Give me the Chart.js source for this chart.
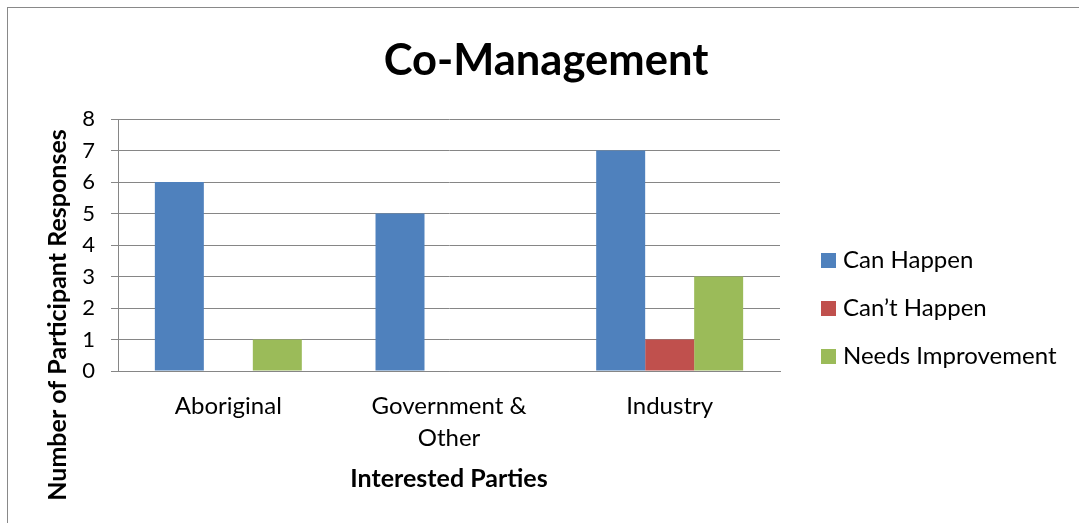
<!DOCTYPE html>
<html>
<head>
<meta charset="utf-8">
<script src="https://cdn.jsdelivr.net/npm/chart.js@4.4.0/dist/chart.umd.min.js"></script>
<style>
  html, body { margin: 0; padding: 0; background: #fff; }
  #wrap { position: relative; width: 1079px; height: 523px; overflow: hidden; }
  #frame { position: absolute; left: 7px; top: 7px; width: 1200px; height: 600px;
           border-left: 1px solid #898989; border-top: 1px solid #898989; pointer-events: none; }
</style>
</head>
<body>
<div id="wrap">
  <canvas id="coManagementChart" width="1079" height="523"></canvas>
  <div id="frame"></div>
</div>
<script>
// --- Data ---
const parties = ['Aboriginal', ['Government &', 'Other'], 'Industry'];
const canHappen = [6, 5, 7];
const cantHappen = [0, 0, 1];
const needsImprovement = [1, 0, 3];
const seriesNames = ['Can Happen', 'Can\u2019t Happen', 'Needs Improvement'];
const seriesColors = ['#4F81BD', '#C0504D', '#9BBB59'];
const yTicks = [0, 1, 2, 3, 4, 5, 6, 7, 8];

const chartTitle = 'Co-Management';
const xAxisTitle = 'Interested Parties';
const yAxisTitle = 'Number of Participant Responses';

const FONT = 'Lato';
const GRID = '#868686';

// title, y axis title and legend drawn by hand (Excel-style placement)
const sideTexts = {
    id: 'sideTexts',
    afterDraw(chart) {
        const ctx = chart.ctx;
        ctx.save();
        ctx.fillStyle = '#000';
        ctx.textAlign = 'center';
        ctx.textBaseline = 'alphabetic';
        ctx.font = `bold 43.5px ${FONT}`;
        ctx.fillText(chartTitle, 546, 75);

        ctx.translate(66, 315);
        ctx.rotate(-Math.PI / 2);
        ctx.font = `bold 25px ${FONT}`;
        ctx.fillText(yAxisTitle, 0, 0);
        ctx.restore();

        ctx.save();
        ctx.font = `24px ${FONT}`;
        ctx.textBaseline = 'alphabetic';
        ctx.textAlign = 'left';
        chart.data.datasets.forEach((ds, i) => {
            const base = 268 + i * 48;
            ctx.fillStyle = ds.backgroundColor;
            ctx.fillRect(821, base - 15, 15, 15);
            ctx.fillStyle = '#000';
            ctx.fillText(ds.label, 843, base);
        });
        ctx.restore();
    }
};

const ctx = document.getElementById('coManagementChart').getContext('2d');
new Chart(ctx, {
    type: 'bar',
    data: {
        labels: parties,
        datasets: [
            { label: seriesNames[0], data: canHappen, backgroundColor: seriesColors[0] },
            { label: seriesNames[1], data: cantHappen, backgroundColor: seriesColors[1] },
            { label: seriesNames[2], data: needsImprovement, backgroundColor: seriesColors[2] }
        ]
    },
    options: {
        responsive: false,
        animation: false,
        devicePixelRatio: 1,
        layout: { padding: { left: 0, right: 299, top: 119, bottom: 0 } },
        datasets: { bar: { categoryPercentage: 0.666, barPercentage: 1.0 } },
        plugins: {
            legend: { display: false },
            tooltip: { enabled: false },
            title: { display: false }
        },
        scales: {
            x: {
                grid: { display: false, drawTicks: false, tickLength: 0 },
                border: { display: true, color: GRID, width: 1 },
                ticks: {
                    color: '#000',
                    padding: 20,
                    font: { family: FONT, size: 24, lineHeight: 1.3 },
                    maxRotation: 0
                },
                title: {
                    display: true,
                    text: xAxisTitle,
                    color: '#000',
                    font: { family: FONT, size: 25, weight: 'bold' },
                    padding: { top: 0, bottom: 29 }
                },
                afterFit(scale) { scale.height = 152; }
            },
            y: {
                min: yTicks[0],
                max: yTicks[yTicks.length - 1],
                afterBuildTicks(scale) { scale.ticks = yTicks.map(v => ({ value: v })); },
                grid: { color: GRID, lineWidth: 1, tickLength: 7 },
                border: { display: true, color: GRID, width: 1 },
                ticks: {
                    color: '#000',
                    padding: 16,
                    autoSkip: false,
                    font: { family: FONT, size: 22 }
                },
                afterFit(scale) { scale.width = 118; }
            }
        }
    },
    plugins: [sideTexts]
});
</script>
</body>
</html>
